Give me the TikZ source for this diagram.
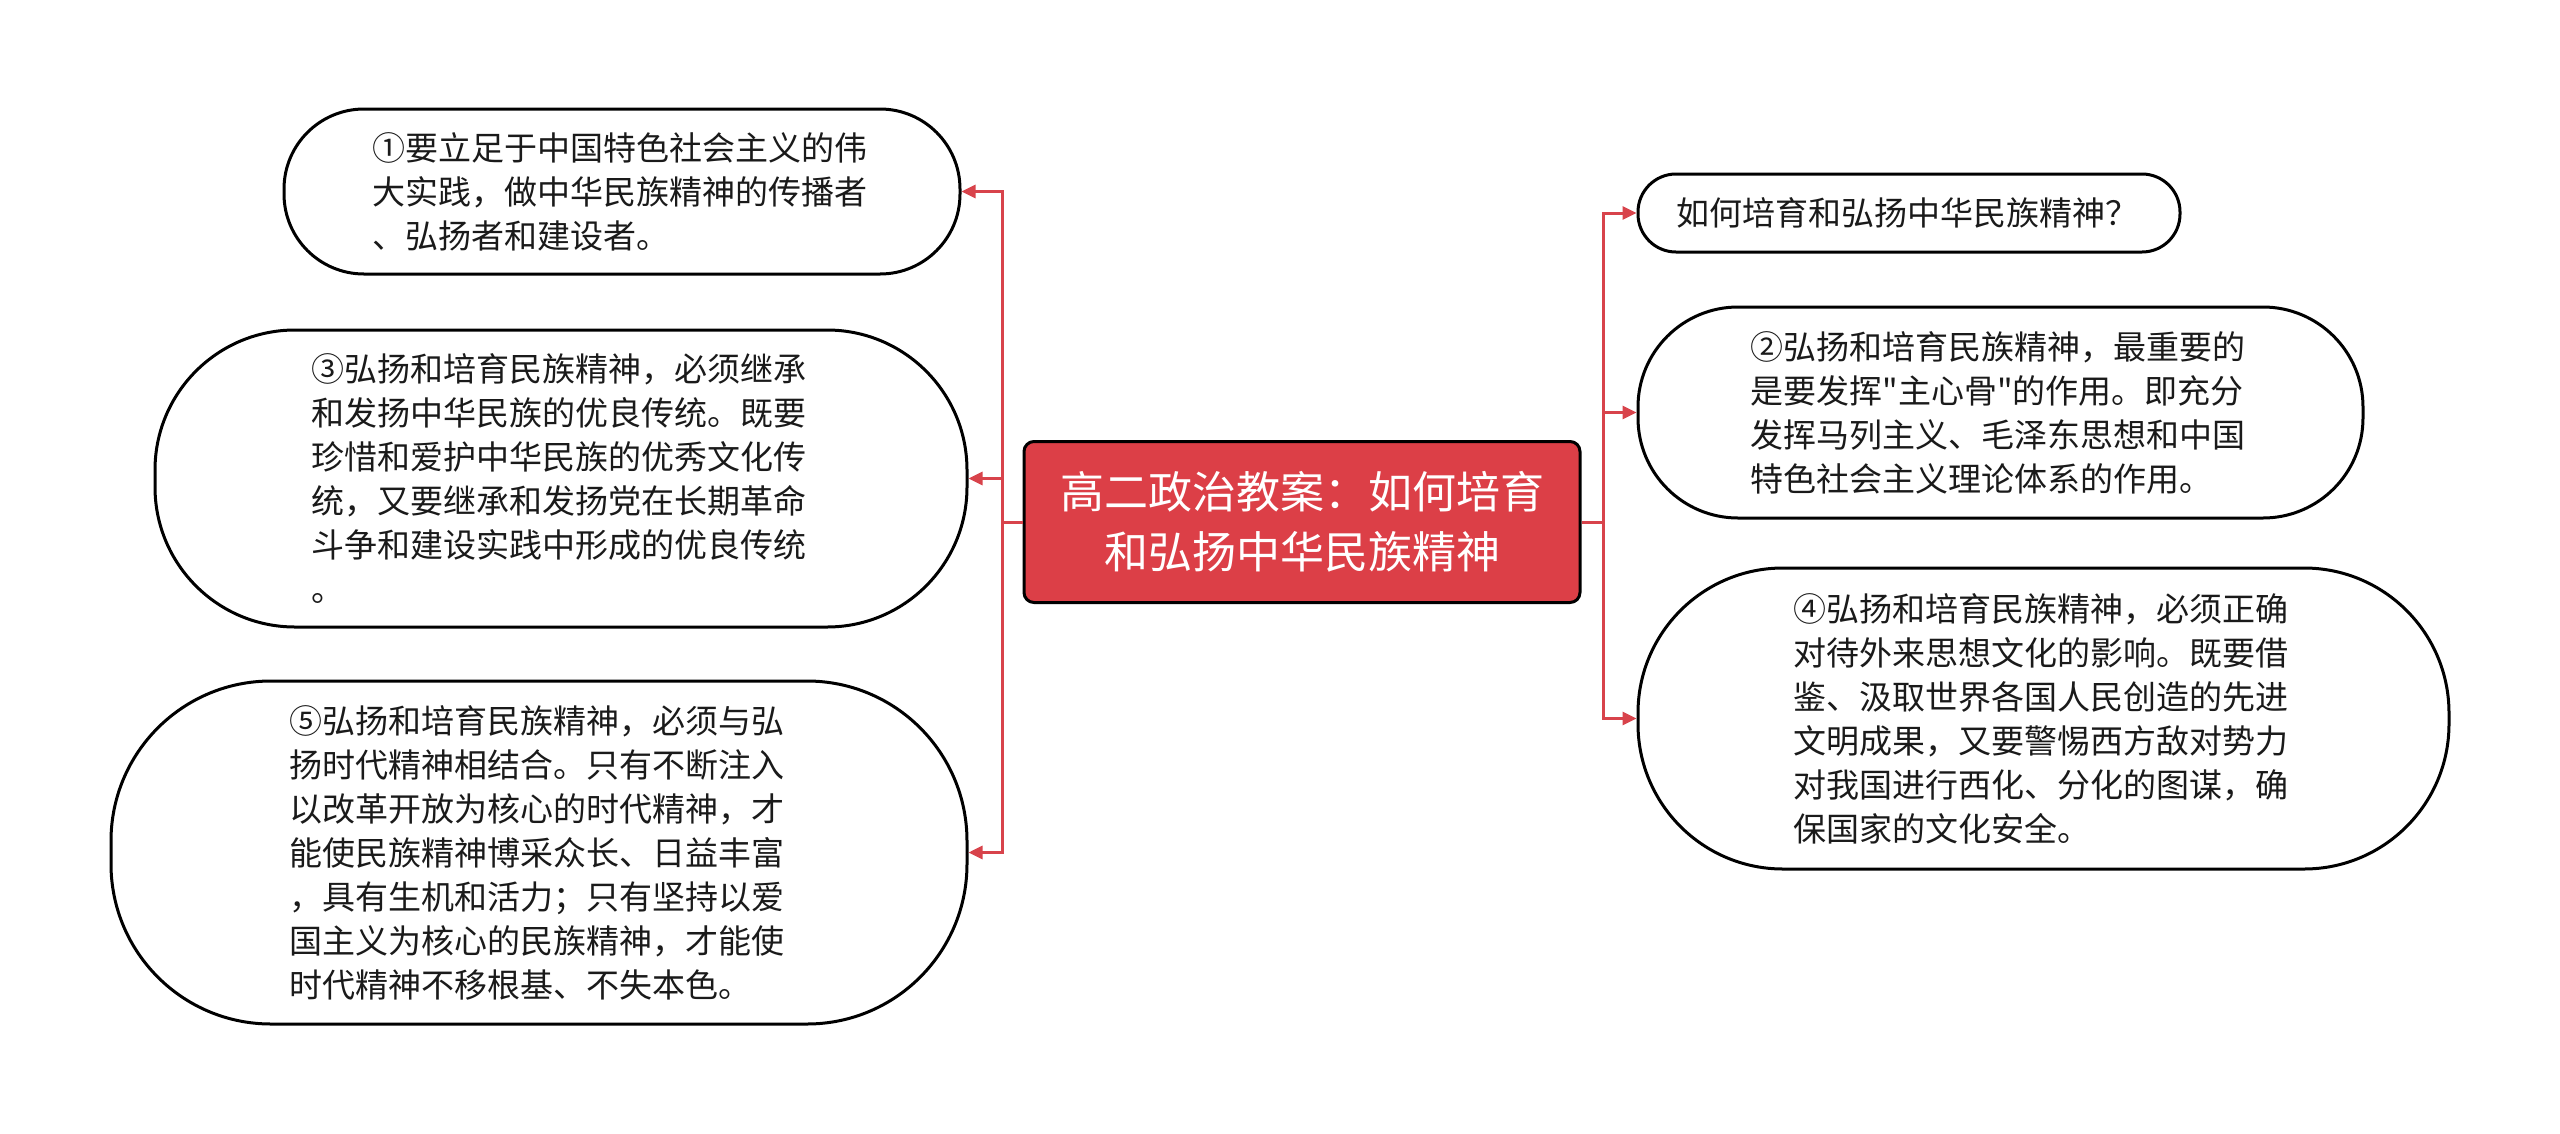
\documentclass[tikz,border=0pt]{standalone}
\usepackage{fontspec}
\newfontfamily\cjk{Noto Sans CJK SC}
\usetikzlibrary{arrows.meta}
\definecolor{cred}{HTML}{DC3F47}
\definecolor{lred}{HTML}{D8434B}
\definecolor{ink}{HTML}{1A1A1A}
\begin{document}
\begin{tikzpicture}[x=1pt,y=-1pt,
 box/.style={draw=black, line width=3pt, fill=white, align=left, text=ink,
   font=\cjk\fontsize{33}{44}\selectfont, inner sep=0pt, text width=500pt},
 centre/.style={draw=black, line width=3pt, fill=cred, rounded corners=10pt, align=center,
   text=white, font=\cjk\fontsize{44}{60}\selectfont, inner sep=0pt, minimum width=556pt, minimum height=161pt},
 conn/.style={draw=lred, line width=3pt},
 arr/.style={conn, -{Triangle[length=14pt,width=13pt]}},
]
\useasboundingbox (0,0) rectangle (2560,1133);
\fill[white] (0,0) rectangle (2560,1133);

\node[centre] (c) at (1302,522) {高二政治教案：如何培育\\和弘扬中华民族精神};

\node[box, minimum width=676pt, minimum height=165pt, rounded corners=80pt] (l1) at (622,191.5)
 {①要立足于中国特色社会主义的伟\\大实践，做中华民族精神的传播者\\、弘扬者和建设者。};
\node[box, minimum width=812pt, minimum height=297pt, rounded corners=140pt] (l2) at (561,478.5)
 {③弘扬和培育民族精神，必须继承\\和发扬中华民族的优良传统。既要\\珍惜和爱护中华民族的优秀文化传\\统，又要继承和发扬党在长期革命\\斗争和建设实践中形成的优良传统\\。};
\node[box, minimum width=856pt, minimum height=343pt, rounded corners=160pt] (l3) at (539,852.5)
 {⑤弘扬和培育民族精神，必须与弘\\扬时代精神相结合。只有不断注入\\以改革开放为核心的时代精神，才\\能使民族精神博采众长、日益丰富\\，具有生机和活力；只有坚持以爱\\国主义为核心的民族精神，才能使\\时代精神不移根基、不失本色。};

\node[box, text width=466pt, minimum width=542pt, minimum height=78pt, rounded corners=38pt] (r0) at (1909,213)
 {如何培育和弘扬中华民族精神？};
\node[box, minimum width=725pt, minimum height=211pt, rounded corners=100pt] (r1) at (2000.5,412.5)
 {②弘扬和培育民族精神，最重要的\\是要发挥"主心骨"的作用。即充分\\发挥马列主义、毛泽东思想和中国\\特色社会主义理论体系的作用。};
\node[box, minimum width=811pt, minimum height=301pt, rounded corners=145pt] (r2) at (2043.5,718.5)
 {④弘扬和培育民族精神，必须正确\\对待外来思想文化的影响。既要借\\鉴、汲取世界各国人民创造的先进\\文明成果，又要警惕西方敌对势力\\对我国进行西化、分化的图谋，确\\保国家的文化安全。};

\coordinate (lt) at (1002,522);
\coordinate (rt) at (1603,522);

\draw[conn] (c.west) -- (lt);
\draw[conn] (c.east) -- (rt);
\draw[arr] (lt) |- (l1.east);
\draw[arr] (lt) |- (l2.east);
\draw[arr] (lt) |- (l3.east);
\draw[arr] (rt) |- (r0.west);
\draw[arr] (rt) |- (r1.west);
\draw[arr] (rt) |- (r2.west);
\end{tikzpicture}
\end{document}
